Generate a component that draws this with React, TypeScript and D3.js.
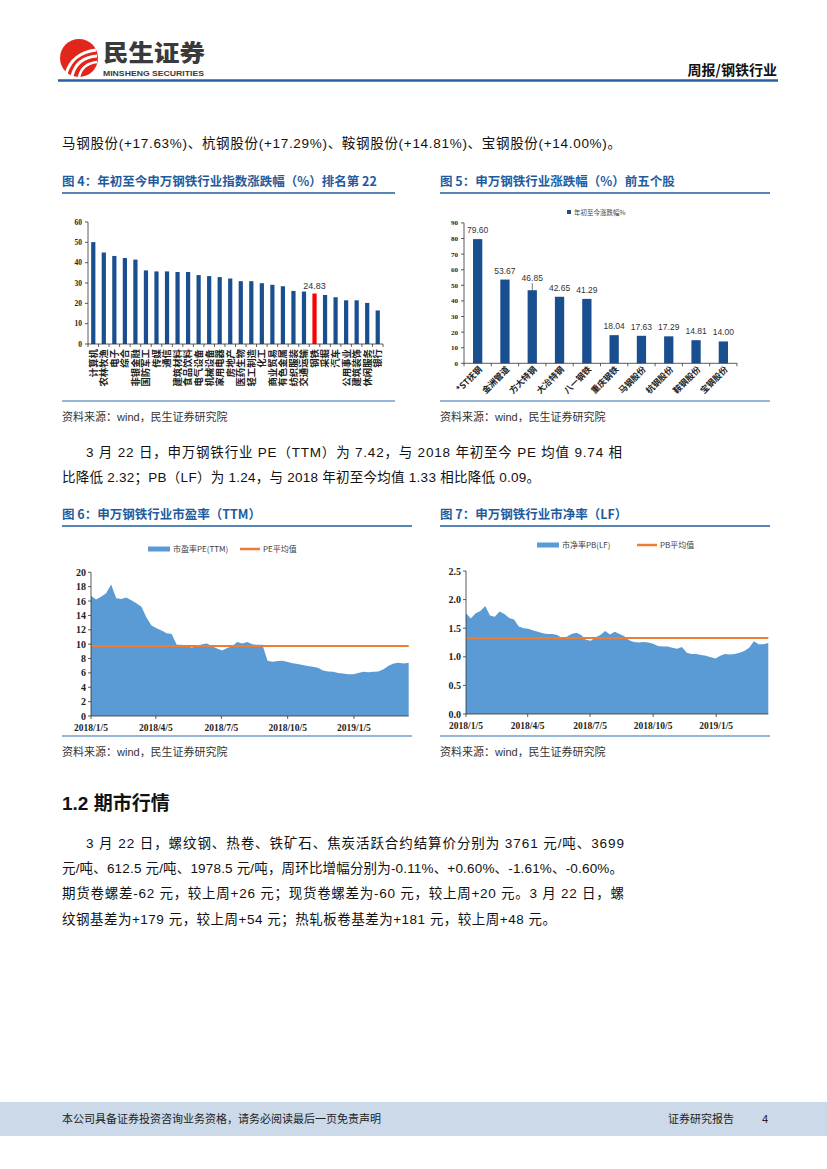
import React from "react";
import * as d3 from "d3";

const CJK = '"Noto Sans CJK SC", "Noto Sans", sans-serif';
const SANS = '"Liberation Sans", Arial, "Noto Sans CJK SC", sans-serif';
const SERIF = '"Liberation Serif", "Times New Roman", "Noto Sans CJK SC", serif';

// ---------- Figure 4 ----------
const industries = [
  "计算机", "农林牧渔", "电子", "综合", "非银金融", "国防军工", "传媒", "通信",
  "建筑材料", "食品饮料", "电气设备", "机械设备", "家用电器", "房地产", "医药生物",
  "轻工制造", "化工", "商业贸易", "有色金属", "纺织服装", "交通运输", "钢铁",
  "采掘", "汽车", "公用事业", "建筑装饰", "休闲服务", "银行",
];
const industryChange = [
  50.1, 45.0, 43.3, 42.3, 41.5, 36.2, 35.7, 35.7, 35.4, 35.4, 33.9, 33.4, 32.9, 32.2,
  30.9, 30.9, 29.9, 29.1, 28.4, 26.1, 25.8, 24.83, 24.1, 23.0, 21.5, 21.5, 20.2, 16.5,
];
const highlightIndustry = "钢铁";
const fig4Ticks = [0, 10, 20, 30, 40, 50, 60];

// ---------- Figure 5 ----------
const topStocks = [
  "*ST抚钢", "金洲管道", "方大特钢", "大冶特钢", "八一钢铁",
  "重庆钢铁", "马钢股份", "杭钢股份", "鞍钢股份", "宝钢股份",
];
const topStockChange = [79.6, 53.67, 46.85, 42.65, 41.29, 18.04, 17.63, 17.29, 14.81, 14.0];
const fig5Ticks = [0, 10, 20, 30, 40, 50, 60, 70, 80, 90];

// ---------- Figures 6 & 7 ----------
const weekDates = [
  "2018-01-05", "2018-01-12", "2018-01-19", "2018-01-26", "2018-02-02", "2018-02-09",
  "2018-02-16", "2018-02-23", "2018-03-02", "2018-03-09", "2018-03-16", "2018-03-23",
  "2018-03-30", "2018-04-06", "2018-04-13", "2018-04-20", "2018-04-27", "2018-05-04",
  "2018-05-11", "2018-05-18", "2018-05-25", "2018-06-01", "2018-06-08", "2018-06-15",
  "2018-06-22", "2018-06-29", "2018-07-06", "2018-07-13", "2018-07-20", "2018-07-27",
  "2018-08-03", "2018-08-10", "2018-08-17", "2018-08-24", "2018-08-31", "2018-09-07",
  "2018-09-14", "2018-09-21", "2018-09-28", "2018-10-05", "2018-10-12", "2018-10-19",
  "2018-10-26", "2018-11-02", "2018-11-09", "2018-11-16", "2018-11-23", "2018-11-30",
  "2018-12-07", "2018-12-14", "2018-12-21", "2018-12-28", "2019-01-04", "2019-01-11",
  "2019-01-18", "2019-01-25", "2019-02-01", "2019-02-08", "2019-02-15", "2019-02-22",
  "2019-03-01", "2019-03-08", "2019-03-15", "2019-03-22",
];
const peValues = [
  16.75, 16.2, 16.6, 17.1, 18.3, 16.4, 16.3, 16.5, 16.1, 15.7, 15.2, 13.7,
  12.6, 12.2, 11.9, 11.5, 11.4, 9.9, 9.9, 9.7, 9.55, 9.7, 10.0, 10.1,
  9.7, 9.4, 9.1, 9.45, 9.7, 10.3, 10.1, 10.3, 10.0, 9.9, 9.9, 7.7,
  7.55, 7.65, 7.7, 7.5, 7.35, 7.25, 7.1, 6.95, 6.85, 6.7, 6.35, 6.2,
  6.15, 6.0, 5.9, 5.8, 5.8, 6.0, 6.15, 6.1, 6.15, 6.2, 6.5, 7.0,
  7.3, 7.4, 7.3, 7.42,
];
const pbValues = [
  1.76, 1.67, 1.76, 1.8, 1.89, 1.72, 1.7, 1.79, 1.75, 1.68, 1.65, 1.53,
  1.5, 1.49, 1.46, 1.44, 1.41, 1.4, 1.4, 1.38, 1.33, 1.35, 1.4, 1.42,
  1.38, 1.3, 1.28, 1.34, 1.38, 1.45, 1.39, 1.44, 1.4, 1.36, 1.29, 1.26,
  1.25, 1.26, 1.25, 1.23, 1.19, 1.18, 1.18, 1.16, 1.14, 1.17, 1.07, 1.05,
  1.05, 1.03, 1.02, 0.99, 0.97, 1.02, 1.05, 1.04, 1.05, 1.07, 1.1, 1.16,
  1.27, 1.22, 1.22, 1.24,
];
const peMean = 9.74;
const pbMean = 1.33;
const dateTicks = ["2018-01-05", "2018-04-05", "2018-07-05", "2018-10-05", "2019-01-05"];
const dateTickLabels = ["2018/1/5", "2018/4/5", "2018/7/5", "2018/10/5", "2019/1/5"];
const peTicks = [0, 2, 4, 6, 8, 10, 12, 14, 16, 18, 20];
const pbTicks = [0, 0.5, 1.0, 1.5, 2.0, 2.5];

const BLUE_TITLE = "#1F5C9E";
const BAR = "#1A4F8F";
const AREA = "#5B9BD5";
const ORANGE = "#ED7D31";
const TXT = "#222";

const parse = d3.timeParse("%Y-%m-%d");

function FigTitle({ x, x2, y, text }: { x: number; x2: number; y: number; text: string }) {
  return (
    <g>
      <text x={x} y={y} fontFamily={CJK} fontWeight={700} fontSize={12.5} fill={BLUE_TITLE}>
        {text}
      </text>
      <line x1={x} x2={x2} y1={y + 7} y2={y + 7} stroke={BLUE_TITLE} strokeWidth={1.5} />
    </g>
  );
}

function Source({ x, x2, y }: { x: number; x2: number; y: number }) {
  return (
    <g>
      <line x1={x} x2={x2} y1={y} y2={y} stroke="#2E6DB4" strokeWidth={1.2} />
      <text x={x} y={y + 20} fontFamily={CJK} fontSize={11} fill="#333">
        资料来源：<tspan fontFamily={SANS}>wind</tspan>，民生证券研究院
      </text>
    </g>
  );
}

function Fig4() {
  const x = d3.scaleBand<string>().domain(industries).range([88, 383]).paddingInner(0.6).paddingOuter(0.3);
  const y = d3.scaleLinear().domain([0, 60]).range([344, 222]);
  const step = x.step();
  return (
    <g>
      {industries.map((name, i) => {
        const v = industryChange[i];
        const isHi = name === highlightIndustry;
        return (
          <rect key={name} x={x(name)!} y={y(v)} width={x.bandwidth()} height={y(0) - y(v)} fill={isHi ? "#FF0000" : BAR} />
        );
      })}
      {industries.map((name, i) =>
        name === highlightIndustry ? (
          <text key="lab" x={x(name)! + x.bandwidth() / 2} y={y(industryChange[i]) - 5} textAnchor="middle" fontFamily={SANS} fontSize={9} fill="#333">
            {industryChange[i].toFixed(2)}
          </text>
        ) : null
      )}
      <line x1={88} x2={88} y1={y(60)} y2={y(0)} stroke="#333" strokeWidth={0.8} />
      <line x1={88} x2={383} y1={y(0)} y2={y(0)} stroke="#333" strokeWidth={0.8} />
      {fig4Ticks.map((t) => (
        <g key={t}>
          <line x1={85} x2={88} y1={y(t)} y2={y(t)} stroke="#333" strokeWidth={0.8} />
          <text x={82} y={y(t) + 2.8} textAnchor="end" fontFamily={SERIF} fontWeight={700} fontSize={7.5} fill={TXT}>
            {t}
          </text>
        </g>
      ))}
      {d3.range(industries.length + 1).map((i) => (
        <line key={i} x1={88 + i * step} x2={88 + i * step} y1={y(0)} y2={y(0) + 3} stroke="#333" strokeWidth={0.8} />
      ))}
      {industries.map((name) => {
        const cx = x(name)! + x.bandwidth() / 2 + 3.4;
        return (
          <text key={name} transform={`translate(${cx},${349}) rotate(-90)`} textAnchor="end" fontFamily={CJK} fontWeight={700} fontSize={9.4} fill={TXT}>
            {name}
          </text>
        );
      })}
    </g>
  );
}

function Fig5() {
  const x = d3.scaleBand<string>().domain(topStocks).range([464, 737]).paddingInner(0.66).paddingOuter(0.33);
  const y = d3.scaleLinear().domain([0, 90]).range([363.3, 222.9]);
  return (
    <g>
      <rect x={567} y={210} width={4} height={4} fill={BAR} />
      <text x={574} y={214.5} fontFamily={CJK} fontSize={6.5} fill="#444">
        年初至今涨跌幅%
      </text>
      {topStocks.map((name, i) => {
        const v = topStockChange[i];
        const cx = x(name)! + x.bandwidth() / 2;
        const lift = i === 2 ? 12 : 9;
        return (
          <g key={name}>
            <rect x={x(name)!} y={y(v)} width={x.bandwidth()} height={y(0) - y(v)} fill={BAR} />
            <text x={cx} y={y(v) - lift + 3} textAnchor="middle" fontFamily={SANS} fontSize={8.5} fill="#333">
              {v.toFixed(2)}
            </text>
            {i === 2 ? <line x1={cx} x2={cx} y1={y(v) - 7} y2={y(v)} stroke="#555" strokeWidth={0.8} /> : null}
          </g>
        );
      })}
      <line x1={464} x2={464} y1={y(90)} y2={y(0)} stroke="#333" strokeWidth={0.8} />
      <line x1={464} x2={737} y1={y(0)} y2={y(0)} stroke="#333" strokeWidth={0.8} />
      {fig5Ticks.map((t) => (
        <g key={t}>
          <line x1={461} x2={464} y1={y(t)} y2={y(t)} stroke="#333" strokeWidth={0.8} />
          <text x={458} y={y(t) + 2.5} textAnchor="end" fontFamily={SERIF} fontWeight={700} fontSize={7} fill={TXT}>
            {t}
          </text>
        </g>
      ))}
      {d3.range(topStocks.length + 1).map((i) => (
        <line key={i} x1={464 + i * x.step()} x2={464 + i * x.step()} y1={y(0)} y2={y(0) + 3} stroke="#333" strokeWidth={0.8} />
      ))}
      {topStocks.map((name) => {
        const cx = x(name)! + x.bandwidth() / 2 + 5;
        return (
          <text key={name} transform={`translate(${cx},${370}) rotate(-45)`} textAnchor="end" fontFamily={CJK} fontWeight={700} fontSize={8.6} fill={TXT}>
            {name}
          </text>
        );
      })}
    </g>
  );
}

function AreaChart({
  x0, x1, y0, y1, values, ticks, mean, fmt, legendArea, legendMean, legendX, legendY, tickFont,
}: {
  x0: number; x1: number; y0: number; y1: number; values: number[]; ticks: number[]; mean: number;
  fmt: (v: number) => string; legendArea: string; legendMean: string; legendX: number[]; legendY: number; tickFont: number;
}) {
  const dates = weekDates.map((d) => parse(d)!);
  const x = d3.scaleTime().domain([dates[0], dates[dates.length - 1]]).range([x0, x1]);
  const y = d3.scaleLinear().domain([0, ticks[ticks.length - 1]]).range([y0, y1]);
  const area = d3
    .area<number>()
    .x((_, i) => x(dates[i]))
    .y0(y(0))
    .y1((v) => y(v))(values);
  return (
    <g>
      <rect x={legendX[0]} y={legendY - 2.5} width={22} height={5} fill={AREA} />
      <text x={legendX[0] + 25} y={legendY + 3} fontFamily={CJK} fontSize={8} fill="#404040">
        {legendArea}
      </text>
      <line x1={legendX[1]} x2={legendX[1] + 20} y1={legendY} y2={legendY} stroke={ORANGE} strokeWidth={2.5} />
      <text x={legendX[1] + 23} y={legendY + 3} fontFamily={CJK} fontSize={8} fill="#404040">
        {legendMean}
      </text>
      <path d={area!} fill={AREA} />
      <line x1={x0} x2={x1} y1={y(mean)} y2={y(mean)} stroke={ORANGE} strokeWidth={2} />
      <line x1={x0} x2={x0} y1={y1} y2={y0} stroke="#333" strokeWidth={0.8} />
      <line x1={x0} x2={x1} y1={y0} y2={y0} stroke="#333" strokeWidth={0.8} />
      {ticks.map((t) => (
        <g key={t}>
          <line x1={x0 - 3} x2={x0} y1={y(t)} y2={y(t)} stroke="#333" strokeWidth={0.8} />
          <text x={x0 - 5} y={y(t) + 3.5} textAnchor="end" fontFamily={SERIF} fontWeight={700} fontSize={tickFont} fill={TXT}>
            {fmt(t)}
          </text>
        </g>
      ))}
      {dateTicks.map((d, i) => {
        const px = x(parse(d)!);
        return (
          <g key={d}>
            <line x1={px} x2={px} y1={y0} y2={y0 + 3} stroke="#333" strokeWidth={0.8} />
            <text x={px} y={y0 + 15} textAnchor="middle" fontFamily={SERIF} fontWeight={700} fontSize={9.5} fill={TXT}>
              {dateTickLabels[i]}
            </text>
          </g>
        );
      })}
    </g>
  );
}

function Logo() {
  return (
    <g>
      <circle cx={79} cy={58} r={19} fill="#E1261C" />
      <path d="M66 74 C 70 60, 80 52, 96 50" stroke="#fff" strokeWidth={3} fill="none" />
      <path d="M72 76 C 75 64, 84 57, 97 56" stroke="#fff" strokeWidth={3} fill="none" />
      <path d="M79 77 C 81 68, 88 63, 97 62" stroke="#fff" strokeWidth={2.6} fill="none" />
      <text x={103} y={61} fontFamily={CJK} fontWeight={900} fontSize={23} fill="#3A3A3A" textLength={102} lengthAdjust="spacingAndGlyphs">
        民生证券
      </text>
      <text x={103} y={75.5} fontFamily={SANS} fontWeight={700} fontSize={8} fill="#3A3A3A" textLength={101} lengthAdjust="spacingAndGlyphs">
        MINSHENG SECURITIES
      </text>
    </g>
  );
}

export default function App() {
  const body = { fontFamily: SANS, fontSize: 13.5, fill: "#111" } as const;
  return (
    <div style={{ position: "absolute", left: 0, top: 0 }}>
      <svg width={827} height={1169} viewBox="0 0 827 1169" style={{ display: "block", background: "#fff" }}>
        <rect width={827} height={1169} fill="#fff" />
        <Logo />
        <text x={777} y={75} textAnchor="end" fontFamily={CJK} fontWeight={700} fontSize={14} fill="#111">
          周报/钢铁行业
        </text>
        <line x1={58} x2={778} y1={80.5} y2={80.5} stroke="#2A5FA3" strokeWidth={2.6} />

        <text x={62} y={148} {...body} textLength={559} lengthAdjust="spacing">
          马钢股份(+17.63%)、杭钢股份(+17.29%)、鞍钢股份(+14.81%)、宝钢股份(+14.00%)。
        </text>

        <FigTitle x={62} x2={395} y={186} text="图 4：年初至今申万钢铁行业指数涨跌幅（%）排名第 22" />
        <FigTitle x={440} x2={770} y={186} text="图 5：申万钢铁行业涨跌幅（%）前五个股" />
        <Fig4 />
        <Fig5 />
        <Source x={62} x2={395} y={401} />
        <Source x={440} x2={770} y={401} />

        <text x={86} y={457} {...body} textLength={536} lengthAdjust="spacing">
          3 月 22 日，申万钢铁行业 PE（TTM）为 7.42，与 2018 年初至今 PE 均值 9.74 相
        </text>
        <text x={62} y={482} {...body} textLength={478} lengthAdjust="spacing">
          比降低 2.32；PB（LF）为 1.24，与 2018 年初至今均值 1.33 相比降低 0.09。
        </text>

        <FigTitle x={62} x2={412} y={519} text="图 6：申万钢铁行业市盈率（TTM）" />
        <FigTitle x={440} x2={770} y={519} text="图 7：申万钢铁行业市净率（LF）" />
        <AreaChart
          x0={91} x1={408.7} y0={716} y1={572.3} values={peValues} ticks={peTicks} mean={peMean}
          fmt={(v) => String(v)} legendArea="市盈率PE(TTM)" legendMean="PE平均值" legendX={[148, 240]} legendY={549} tickFont={10}
        />
        <AreaChart
          x0={466} x1={768.3} y0={714} y1={571} values={pbValues} ticks={pbTicks} mean={pbMean}
          fmt={(v) => v.toFixed(1)} legendArea="市净率PB(LF)" legendMean="PB平均值" legendX={[537, 637]} legendY={545} tickFont={10}
        />
        <Source x={62} x2={412} y={736} />
        <Source x={440} x2={770} y={736} />

        <text x={62} y={810} fontFamily={SANS} fontWeight={700} fontSize={19} fill="#111">
          1.2 期市行情
        </text>

        <text x={86} y={848} {...body} textLength={538} lengthAdjust="spacing">
          3 月 22 日，螺纹钢、热卷、铁矿石、焦炭活跃合约结算价分别为 3761 元/吨、3699
        </text>
        <text x={62} y={873} {...body} textLength={561} lengthAdjust="spacing">
          元/吨、612.5 元/吨、1978.5 元/吨，周环比增幅分别为-0.11%、+0.60%、-1.61%、-0.60%。
        </text>
        <text x={62} y={898} {...body} textLength={562} lengthAdjust="spacing">
          期货卷螺差-62 元，较上周+26 元；现货卷螺差为-60 元，较上周+20 元。3 月 22 日，螺
        </text>
        <text x={62} y={924} {...body} textLength={494} lengthAdjust="spacing">
          纹钢基差为+179 元，较上周+54 元；热轧板卷基差为+181 元，较上周+48 元。
        </text>

        <rect x={0} y={1102} width={827} height={34} fill="#CCD9E8" />
        <text x={62} y={1123} fontFamily={CJK} fontSize={11} fill="#222">
          本公司具备证券投资咨询业务资格，请务必阅读最后一页免责声明
        </text>
        <text x={668} y={1123} fontFamily={CJK} fontSize={11} fill="#222">
          证券研究报告
        </text>
        <text x={762} y={1123} fontFamily={SANS} fontSize={11} fill="#222">
          4
        </text>
      </svg>
    </div>
  );
}
